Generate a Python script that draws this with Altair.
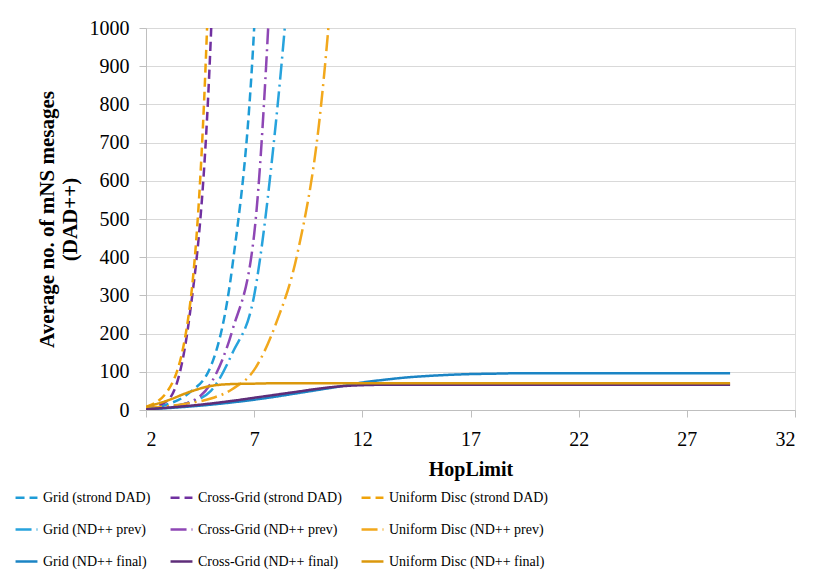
import altair as alt
import pandas as pd

series_names = [
    "Grid (strond DAD)", "Cross-Grid (strond DAD)", "Uniform Disc (strond DAD)",
    "Grid (ND++ prev)", "Cross-Grid (ND++ prev)", "Uniform Disc (ND++ prev)",
    "Grid (ND++ final)", "Cross-Grid (ND++ final)", "Uniform Disc (ND++ final)",
]

grid_strond_x = [2, 3, 4, 5, 6, 7, 8]
grid_strond_y = [3, 15, 45, 115, 380, 1000, 2500]
cross_strond_x = [2, 3, 4, 5, 6]
cross_strond_y = [3, 25, 240, 980, 3000]
ud_strond_x = [2, 3, 4, 5, 6]
ud_strond_y = [8, 50, 260, 1300, 4000]

grid_prev_x = [2, 3, 4, 5, 6, 7, 8, 9]
grid_prev_y = [2, 8, 20, 50, 150, 300, 750, 1400]
cross_prev_x = [2, 3, 4, 5, 6, 7, 8]
cross_prev_y = [2, 8, 20, 70, 210, 460, 1400]
ud_prev_x = [2, 3, 4, 5, 6, 7, 8, 9, 10, 11]
ud_prev_y = [5, 10, 18, 30, 55, 105, 225, 410, 750, 1400]

final_x = list(range(2, 30))
grid_final_y = [2, 5, 9, 14, 20, 27, 35, 44, 53, 62, 72, 79, 85, 89, 92, 94, 95, 96,
                96, 96, 96, 96, 96, 96, 96, 96, 96, 96]
cross_final_y = [2, 6, 11, 17, 24, 32, 40, 48, 56, 62, 65, 66, 66, 66, 66, 66, 66, 66,
                 66, 66, 66, 66, 66, 66, 66, 66, 66, 66]
ud_final_y = [8, 25, 47, 63, 68, 69, 70, 70, 70, 70, 70, 70, 70, 70, 70, 70, 70, 70,
              70, 70, 70, 70, 70, 70, 70, 70, 70, 70]

colors = ["#1E9CD7", "#7030A0", "#F0A30A",
          "#27A3DD", "#8E47B5", "#F2A81C",
          "#1B84C4", "#5E2D79", "#DB980C"]
dash_a = [9, 5]
dash_b = [16, 5, 2, 5]
dash_c = [1, 0]
dashes = [dash_a, dash_a, dash_a, dash_b, dash_b, dash_b, dash_c, dash_c, dash_c]
widths = [2.5, 2.5, 2.5, 3, 3, 3, 3.5, 3.5, 3.5]

xs = [grid_strond_x, cross_strond_x, ud_strond_x,
      grid_prev_x, cross_prev_x, ud_prev_x,
      final_x, final_x, final_x]
ys = [grid_strond_y, cross_strond_y, ud_strond_y,
      grid_prev_y, cross_prev_y, ud_prev_y,
      grid_final_y, cross_final_y, ud_final_y]

rows = []
for name, xv, yv in zip(series_names, xs, ys):
    for a, b in zip(xv, yv):
        rows.append({"series": name, "hop": a, "msgs": b})
df = pd.DataFrame(rows)

FONT = "Liberation Serif"


def make_legend():
    return alt.Legend(orient="none", legendX=-132, legendY=457, direction="horizontal",
                      columns=3, title=None, symbolType="stroke",
                      symbolSize=480, symbolStrokeWidth=3,
                      labelFont=FONT, labelFontSize=14, labelColor="black",
                      rowPadding=12, columnPadding=14, gridAlign="each",
                      labelOffset=4, labelLimit=300)


chart = alt.Chart(df).mark_line(clip=True, interpolate="monotone").encode(
    x=alt.X("hop:Q", scale=alt.Scale(domain=[2, 32], nice=False),
            axis=alt.Axis(values=[2, 7, 12, 17, 22, 27, 32], grid=False,
                          title="HopLimit", labelFont=FONT, labelFontSize=20,
                          titleFont=FONT, titleFontSize=20, titleFontWeight="bold",
                          labelColor="black", titleColor="black",
                          domainColor="#BFBFBF", tickColor="#BFBFBF", tickSize=7,
                          labelPadding=12, titlePadding=10)),
    y=alt.Y("msgs:Q", scale=alt.Scale(domain=[0, 1000], nice=False),
            axis=alt.Axis(values=list(range(0, 1001, 100)), format="d",
                          title=["Average no. of mNS mesages", "(DAD++)"],
                          labelFont=FONT, labelFontSize=20,
                          titleFont=FONT, titleFontSize=21, titleFontWeight="bold",
                          labelColor="black", titleColor="black",
                          gridColor="#D9D9D9", gridWidth=1.2,
                          domainColor="#BFBFBF", tickColor="#BFBFBF", tickSize=7,
                          labelPadding=10, titlePadding=9)),
    color=alt.Color("series:N", scale=alt.Scale(domain=series_names, range=colors),
                    legend=make_legend()),
    strokeDash=alt.StrokeDash("series:N",
                              scale=alt.Scale(domain=series_names, range=dashes),
                              legend=make_legend()),
    strokeWidth=alt.StrokeWidth("series:N",
                                scale=alt.Scale(domain=series_names, range=widths),
                                legend=None),
).properties(
    width=649, height=382,
    autosize=alt.AutoSizeParams(type="none"),
    padding={"left": 146, "top": 28, "right": 27, "bottom": 162},
).configure_view(stroke=None).configure(
    background="white", font=FONT
).configure_legend(
    labelFont=FONT, labelFontSize=14, labelColor="black",
    symbolStrokeWidth=3, symbolType="stroke", symbolSize=480,
    rowPadding=12, columnPadding=14, gridAlign="each", labelOffset=4, labelLimit=300,
)

chart.save("out.html", embed_options={"renderer": "svg", "actions": False})
